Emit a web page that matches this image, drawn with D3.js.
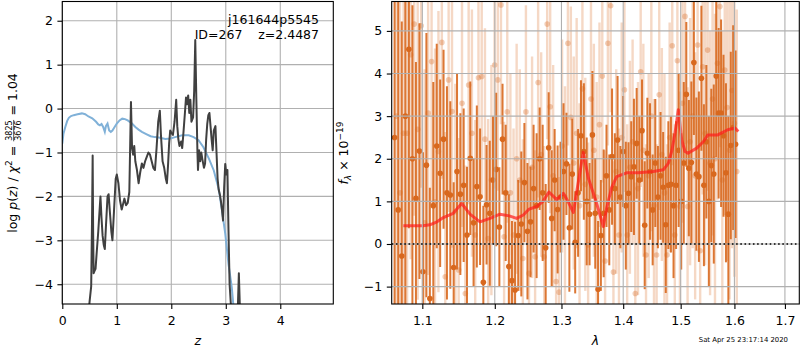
<!DOCTYPE html>
<meta charset="utf-8">
<script src="https://d3js.org/d3.v7.min.js"></script>
<style>
body { margin: 0; background: #fff; }
text { font-family: "DejaVu Sans", sans-serif; white-space: pre; }
</style>
<body>
<div id="chart"></div>
<script>

// ---- left panel: redshift probability ----
var pzZ = [0.46,0.50,0.53,0.545,0.557,0.566,0.575,0.59,0.61,0.63,
  0.66,0.70,0.72,0.74,0.76,0.78,0.80,0.83,0.85,0.87,
  0.90,0.92,0.95,0.98,1.00,1.03,1.06,1.09,1.11,1.14,
  1.17,1.20,1.23,1.26,1.28,1.30,1.32,1.34,1.37,1.40,
  1.43,1.46,1.49,1.52,1.55,1.58,1.61,1.64,1.67,1.70,
  1.73,1.76,1.79,1.81,1.84,1.87,1.90,1.92,1.94,1.96,
  1.98,2.00,2.03,2.06,2.09,2.11,2.13,2.15,2.18,2.20,
  2.22,2.25,2.27,2.29,2.31,2.33,2.35,2.37,2.40,2.42,
  2.44,2.46,2.48,2.49,2.51,2.53,2.55,2.57,2.60,2.62,
  2.64,2.66,2.68,2.70,2.72,2.74,2.76,2.78,2.81,2.83,
  2.85,2.87,2.89,2.91,2.93,2.95,2.97,2.99,3.01,3.03,
  3.05,3.07,3.10,3.15,3.21,3.24,3.27,3.35];
var pzLogP = [-5.0,-4.40,-4.05,-2.6,-1.07,-2.8,-3.75,-3.70,-3.65,-3.3,
  -2.8,-2.0,-2.5,-2.9,-3.1,-3.2,-2.7,-2.0,-1.95,-2.3,
  -2.8,-3.0,-2.3,-1.6,-1.5,-1.7,-2.1,-2.3,-2.2,-2.05,
  -2.2,-2.15,-1.9,0.15,-0.9,-1.05,-0.85,-1.2,-1.4,-1.7,
  -1.45,-1.25,-1.35,-1.2,-1.1,-1.0,-1.05,-1.2,-1.35,-1.4,
  -0.9,-0.3,-0.05,-0.6,-1.2,-1.35,-1.6,-1.7,-1.3,-0.8,
  -0.5,-0.55,-0.6,-0.3,0.2,-0.4,-0.7,-0.85,-0.75,-0.9,
  -0.6,-0.1,0.25,0.1,0.3,-0.1,0.2,-0.3,-0.2,0.4,
  1.56,0.2,-1.0,-1.4,-0.95,-1.2,-1.0,-1.15,-1.35,-1.25,
  -0.7,-0.35,-0.15,-0.1,-0.4,-0.7,-0.95,-0.5,-0.4,-1.0,
  -1.6,-1.85,-1.95,-2.1,-2.3,-2.55,-1.8,-1.26,-1.5,-1.4,
  -2.8,-4.0,-4.6,-5.5,-5.0,-3.75,-5.0,-6.5];

var priorZ = [0,0.02,0.055,0.09,0.12,0.16,0.21,0.28,0.36,0.42,
  0.48,0.55,0.62,0.66,0.69,0.72,0.75,0.78,0.80,0.83,
  0.86,0.89,0.92,0.96,1.00,1.05,1.10,1.15,1.20,1.27,
  1.34,1.40,1.46,1.54,1.62,1.70,1.77,1.89,1.98,2.07,
  2.20,2.32,2.41,2.50,2.59,2.69,2.78,2.87,2.93,2.99,
  3.05,3.11,3.14,3.20];
var priorLogP = [-0.80,-0.58,-0.42,-0.28,-0.21,-0.17,-0.15,-0.13,-0.11,-0.13,
  -0.18,-0.22,-0.30,-0.36,-0.38,-0.35,-0.42,-0.53,-0.40,-0.34,
  -0.50,-0.53,-0.50,-0.42,-0.34,-0.27,-0.23,-0.24,-0.27,-0.33,
  -0.42,-0.48,-0.53,-0.58,-0.63,-0.65,-0.66,-0.69,-0.68,-0.65,
  -0.61,-0.61,-0.65,-0.72,-0.88,-1.14,-1.41,-1.83,-2.32,-2.85,
  -3.54,-4.07,-4.49,-5.2];

var zTicks = [0, 1, 2, 3, 4];
var pTicks = [-4, -3, -2, -1, 0, 1, 2];

// ---- right panel: spectrum (units of 1e-19) ----
var wave1 = [1.0640,1.0686,1.0732,1.0778,1.0824,1.0870,1.0916,1.0962,1.1008,1.1054,
  1.1100,1.1146,1.1192,1.1238,1.1284,1.1330,1.1376,1.1422,1.1468,1.1514,
  1.1560,1.1606,1.1652,1.1698,1.1744,1.1790,1.1836,1.1882,1.1928,1.1974,
  1.2020,1.2066,1.2112,1.2158,1.2204,1.2250,1.2296,1.2342,1.2388,1.2434,
  1.2480,1.2526,1.2572,1.2618,1.2664,1.2710,1.2756,1.2802,1.2848,1.2894,
  1.2940,1.2986,1.3032,1.3078,1.3124,1.3170,1.3216,1.3262,1.3308,1.3354,
  1.3400,1.3446,1.3492,1.3538,1.3584,1.3630,1.3676,1.3722,1.3768,1.3814,
  1.3860,1.3906,1.3952,1.3998,1.4044,1.4090,1.4136,1.4182,1.4228,1.4274,
  1.4320,1.4366,1.4412,1.4458,1.4504,1.4550,1.4596,1.4642,1.4688,1.4734,
  1.4780,1.4826,1.4872,1.4918,1.4964,1.5010,1.5056,1.5102,1.5148,1.5194,
  1.5240,1.5286,1.5332,1.5378,1.5424,1.5470,1.5516,1.5562,1.5608,1.5654,
  1.5700,1.5746,1.5792,1.5838,1.5884,1.5930,1.5976,1.6022];
var flux1 = [2.5,0.8,-0.28,3.0,4.57,2.0,1.07,2.18,-0.65,1.85,
  -1.28,0.9,2.30,1.66,2.46,1.20,1.15,-0.55,1.70,1.17,
  1.38,0.21,2.01,0.5,1.35,1.11,-0.9,0.92,0.72,1.5,
  1.75,0.4,2.46,1.2,-0.53,-0.86,-1.08,0.2,0.47,1.44,
  0.3,0.52,1.3,0.9,2.0,1.2,-0.09,2.26,0.6,1.5,
  0.81,1.1,1.70,1.88,0.38,1.64,0.04,1.2,2.54,2.17,
  1.0,0.7,2.56,0.72,-1.06,0.2,0.72,1.6,0.8,2.05,
  1.3,2.44,1.10,2.17,0.9,1.19,1.58,1.81,2.36,1.50,
  2.66,0.44,2.13,1.7,0.80,1.9,1.1,1.6,1.33,0.45,
  1.38,1.40,0.9,1.38,2.2,1.0,1.9,3.51,1.78,1.91,
  4.26,1.64,1.58,3.89,1.38,2.4,1.0,1.84,1.64,3.94,
  3.07,3.07,2.54,1.67,0.70,2.31,2.73,2.34];
var err1 = [6.0,6.0,5.5,5.0,4.2,3.6,3.2,3.0,2.8,3.1,
  2.6,2.9,2.4,2.2,2.1,2.5,2.2,2.0,2.3,1.9,
  1.8,1.6,1.8,1.5,1.9,1.6,1.8,1.4,1.7,1.5,
  1.8,1.4,1.3,1.6,1.7,1.4,1.6,1.3,1.7,1.4,
  1.6,1.3,1.5,1.7,1.2,1.6,1.5,1.3,1.6,1.2,
  1.5,1.3,1.6,1.2,1.5,1.3,1.2,1.5,1.3,1.6,
  1.5,1.2,1.5,1.3,1.6,1.3,1.5,1.2,1.3,1.6,
  1.3,1.5,1.2,1.3,1.5,1.2,1.3,1.6,1.3,1.5,
  1.2,1.5,1.3,1.6,1.3,1.5,1.2,1.5,1.3,1.6,
  1.5,1.6,1.7,1.5,1.8,1.6,1.9,1.7,1.6,1.9,
  1.7,1.8,2.0,1.7,1.9,1.8,2.0,1.8,2.1,1.9,
  2.0,2.2,1.9,2.1,2.3,2.2,2.4,2.2];

var wave2 = [1.0663,1.0709,1.0755,1.0801,1.0847,1.0893,1.0939,1.0985,1.1031,1.1077,
  1.1123,1.1169,1.1215,1.1261,1.1307,1.1353,1.1399,1.1445,1.1491,1.1537,
  1.1583,1.1629,1.1675,1.1721,1.1767,1.1813,1.1859,1.1905,1.1951,1.1997,
  1.2043,1.2089,1.2135,1.2181,1.2227,1.2273,1.2319,1.2365,1.2411,1.2457,
  1.2503,1.2549,1.2595,1.2641,1.2687,1.2733,1.2779,1.2825,1.2871,1.2917,
  1.2963,1.3009,1.3055,1.3101,1.3147,1.3193,1.3239,1.3285,1.3331,1.3377,
  1.3423,1.3469,1.3515,1.3561,1.3607,1.3653,1.3699,1.3745,1.3791,1.3837,
  1.3883,1.3929,1.3975,1.4021,1.4067,1.4113,1.4159,1.4205,1.4251,1.4297,
  1.4343,1.4389,1.4435,1.4481,1.4527,1.4573,1.4619,1.4665,1.4711,1.4757,
  1.4803,1.4849,1.4895,1.4941,1.4987,1.5033,1.5079,1.5125,1.5171,1.5217,
  1.5263,1.5309,1.5355,1.5401,1.5447,1.5493,1.5539,1.5585,1.5631,1.5677,
  1.5723,1.5769,1.5815,1.5861,1.5907,1.5953,1.5999,1.6045];
var flux2 = [3.0,1.2,2.6,2.6,4.44,5.16,2.69,5.12,0.5,3.07,
  4.28,0.99,2.17,4.73,-0.77,3.85,3.11,0.76,-0.61,3.30,
  -1.16,3.73,2.6,0.21,3.90,3.93,2.46,0.13,1.5,4.2,
  3.85,5.61,0.17,3.1,1.2,0.21,2.0,1.5,-0.34,3.1,
  -0.69,1.8,-0.30,3.79,2.1,-0.30,5.16,3.22,1.6,-0.88,
  -1.13,2.3,1.1,4.71,2.97,1.9,2.6,0.9,3.64,1.4,
  -0.02,3.40,2.2,1.1,2.8,3.94,-0.40,4.71,5.59,-0.66,
  1.7,0.21,2.5,3.62,0.21,1.8,2.4,-1.16,1.3,4.04,
  2.2,-0.26,1.6,3.0,0.9,-0.26,3.5,2.1,1.2,-0.26,
  2.5,4.65,0.21,4.30,0.88,3.3,5.34,0.88,2.4,3.0,
  1.6,4.67,-0.16,4.16,2.6,4.55,1.9,3.4,2.0,4.24,
  5.57,1.5,4.08,3.2,2.2,3.6,2.83,1.7];
var err2 = [6.0,6.0,5.5,5.0,4.8,4.5,4.0,3.8,3.6,3.8,
  3.4,3.6,3.3,3.2,3.4,3.1,3.2,3.0,3.1,2.9,
  3.0,2.8,2.9,2.7,2.9,2.8,2.6,2.8,2.7,2.9,
  2.6,2.8,2.7,2.6,2.8,2.5,2.7,2.6,2.8,2.5,
  2.7,2.6,2.5,2.7,2.4,2.6,2.7,2.5,2.6,2.4,
  2.7,2.5,2.6,2.4,2.6,2.5,2.7,2.4,2.6,2.5,
  2.4,2.6,2.5,2.7,2.4,2.5,2.6,2.4,2.5,2.6,
  2.4,2.5,2.7,2.4,2.6,2.5,2.4,2.6,2.5,2.7,
  2.5,2.6,2.4,2.7,2.5,2.6,2.7,2.5,2.8,2.6,
  2.7,2.8,2.6,2.9,2.7,2.8,3.0,2.8,2.9,3.1,
  2.9,3.0,3.2,3.0,3.1,3.3,3.1,3.2,3.4,3.2,
  3.3,3.5,3.4,3.6,3.5,3.7,3.6,3.8];

var modelWave = [1.0752,1.1013,1.1099,1.1196,1.1281,1.1416,1.1481,1.1533,1.1648,1.1789,
  1.1931,1.2075,1.2210,1.2319,1.2418,1.2505,1.2620,1.2715,1.2806,1.2926,
  1.3029,1.3102,1.3186,1.3260,1.3345,1.3426,1.3561,1.3670,1.3726,1.3808,
  1.3891,1.4058,1.4257,1.4515,1.4690,1.4779,1.4844,1.4898,1.4958,1.5019,
  1.5078,1.5133,1.5292,1.5413,1.5498,1.5684,1.5872,1.6012,1.6075];
var modelFlux = [0.43,0.43,0.45,0.52,0.62,0.72,0.85,0.95,0.70,0.52,
  0.60,0.70,0.66,0.60,0.68,0.82,0.88,1.00,1.22,1.04,
  1.19,1.00,0.74,1.40,2.15,1.55,0.95,0.41,0.85,1.33,
  1.58,1.67,1.67,1.70,1.74,1.89,2.20,2.60,3.15,2.44,
  2.17,2.13,2.25,2.40,2.56,2.56,2.68,2.72,2.64];

var lamTicks = [1.1, 1.2, 1.3, 1.4, 1.5, 1.6, 1.7];
var fTicks = [-1, 0, 1, 2, 3, 4, 5];

var fs = 12.5;
var orange = "#d8681e";
var gridColor = "#b0b0b0";

var svg = d3.select("#chart")
  .append("svg")
    .attr("width", 800)
    .attr("height", 350)
    .style("background", "#fff");

var L = {left: 62.3, right: 333.3, top: 1.5, bottom: 304};
var R = {left: 391.7, right: 799.3, top: 1.5, bottom: 304};

var x1 = d3.scaleLinear().domain([0, 4.973]).range([L.left, L.right]);
var y1 = d3.scaleLinear().domain([-4.45, 2.438]).range([L.bottom, L.top]);
var x2 = d3.scaleLog().domain([1.0603, 1.7296]).range([R.left, R.right]);
var y2 = d3.scaleLinear().domain([-1.408, 5.69]).range([R.bottom, R.top]);

function clip(id, b) {
  svg.append("clipPath").attr("id", id)
    .append("rect")
      .attr("x", b.left).attr("y", b.top)
      .attr("width", b.right - b.left).attr("height", b.bottom - b.top);
}
clip("clipL", L);
clip("clipR", R);

function grid(b, xs, ys, xt, yt) {
  var g = svg.append("g").attr("stroke", gridColor).attr("stroke-width", 1.1);
  xt.forEach(function(d) {
    g.append("line").attr("x1", xs(d)).attr("x2", xs(d)).attr("y1", b.top).attr("y2", b.bottom);
  });
  yt.forEach(function(d) {
    g.append("line").attr("x1", b.left).attr("x2", b.right).attr("y1", ys(d)).attr("y2", ys(d));
  });
}

function styleAxis(g) {
  g.select(".domain").remove();
  g.attr("font-size", null).attr("font-family", null);
  g.selectAll("text").attr("font-size", fs).attr("fill", "#000");
  g.selectAll("line").attr("stroke", "#000").attr("stroke-width", 1.1);
}

function frame(b) {
  svg.append("rect")
    .attr("x", b.left).attr("y", b.top)
    .attr("width", b.right - b.left).attr("height", b.bottom - b.top)
    .attr("fill", "none").attr("stroke", "#000").attr("stroke-width", 1.1);
}

// ===== left panel =====
grid(L, x1, y1, zTicks, pTicks);

var gl = svg.append("g").attr("clip-path", "url(#clipL)");

gl.append("path")
  .datum(priorZ.map(function(z, i) { return [z, priorLogP[i]]; }))
  .attr("fill", "none")
  .attr("stroke", "#80b1d8")
  .attr("stroke-width", 2)
  .attr("d", d3.line().x(function(d) { return x1(d[0]); }).y(function(d) { return y1(d[1]); }));

gl.append("path")
  .datum(pzZ.map(function(z, i) { return [z, pzLogP[i]]; }))
  .attr("fill", "none")
  .attr("stroke", "#404040")
  .attr("stroke-width", 2)
  .attr("stroke-linejoin", "round")
  .attr("d", d3.line().x(function(d) { return x1(d[0]); }).y(function(d) { return y1(d[1]); }));

svg.append("g")
  .attr("transform", "translate(0," + L.bottom + ")")
  .call(d3.axisBottom(x1).tickValues(zTicks).tickSize(4.9).tickPadding(7).tickFormat(d3.format("d")))
  .call(styleAxis);
svg.append("g")
  .attr("transform", "translate(" + L.left + ",0)")
  .call(d3.axisLeft(y1).tickValues(pTicks).tickSize(4.9).tickPadding(4.5).tickFormat(d3.format("d")))
  .call(styleAxis);
frame(L);

svg.append("text")
  .attr("x", 319).attr("y", 24)
  .attr("text-anchor", "end").attr("font-size", fs)
  .text("j161644p5545");
svg.append("text")
  .attr("x", 319).attr("y", 38.5)
  .attr("text-anchor", "end").attr("font-size", fs)
  .text("ID=267    z=2.4487");

svg.append("text")
  .attr("x", (L.left + L.right) / 2).attr("y", 345)
  .attr("text-anchor", "middle").attr("font-size", fs).attr("font-style", "italic")
  .text("z");

// left y label with a stacked fraction
(function() {
  var g = svg.append("g");
  var t1 = g.append("text").attr("font-size", fs);
  t1.append("tspan").text("log ");
  t1.append("tspan").attr("font-style", "italic").text("p");
  t1.append("tspan").text("(");
  t1.append("tspan").attr("font-style", "italic").text("z");
  t1.append("tspan").text(") / ");
  t1.append("tspan").attr("font-style", "italic").text("χ");
  t1.append("tspan").attr("font-size", 9).attr("dy", -5).text("2");
  t1.append("tspan").attr("dy", 5).text(" = ");
  var w1 = t1.node().getComputedTextLength();

  var num = g.append("text").attr("font-size", 8).attr("y", -5).text("3825");
  var den = g.append("text").attr("font-size", 8).attr("y", 4).text("3676");
  var wf = Math.max(num.node().getComputedTextLength(), den.node().getComputedTextLength());
  num.attr("x", w1 + 1);
  den.attr("x", w1 + 1);
  g.append("line")
    .attr("x1", w1 + 0.5).attr("x2", w1 + wf + 1.5)
    .attr("y1", -3.3).attr("y2", -3.3)
    .attr("stroke", "#000").attr("stroke-width", 0.7);

  var t2 = g.append("text").attr("font-size", fs).attr("x", w1 + wf + 2).text(" = 1.04");
  var total = w1 + wf + 2 + t2.node().getComputedTextLength();
  g.attr("transform", "translate(17," + (153 + total / 2) + ") rotate(-90)");
})();

// ===== right panel =====
var spec1 = wave1.map(function(w, i) { return {w: w, f: flux1[i], e: err1[i]}; });
var spec2 = wave2.map(function(w, i) { return {w: w, f: flux2[i], e: err2[i]}; });

var gr = svg.append("g").attr("clip-path", "url(#clipR)");

function errorbars(data, barWidth, barOpacity, dotOpacity) {
  var g = gr.append("g");
  g.selectAll("line")
    .data(data)
    .join("line")
      .attr("x1", function(d) { return x2(d.w); })
      .attr("x2", function(d) { return x2(d.w); })
      .attr("y1", function(d) { return y2(d.f - d.e); })
      .attr("y2", function(d) { return y2(d.f + d.e); })
      .attr("stroke", orange)
      .attr("stroke-width", barWidth)
      .attr("stroke-opacity", barOpacity);
  g.selectAll("circle")
    .data(data)
    .join("circle")
      .attr("cx", function(d) { return x2(d.w); })
      .attr("cy", function(d) { return y2(d.f); })
      .attr("r", 2.8)
      .attr("fill", orange)
      .attr("fill-opacity", dotOpacity);
}
errorbars(spec2, 2.4, 0.26, 0.32);
errorbars(spec1, 2.0, 0.9, 1);

grid(R, x2, y2, lamTicks, fTicks);

svg.append("line")
  .attr("x1", R.left).attr("x2", R.right)
  .attr("y1", y2(0)).attr("y2", y2(0))
  .attr("stroke", "#000").attr("stroke-width", 1.6)
  .attr("stroke-dasharray", "1.6,2.6");

gr.append("path")
  .datum(modelWave.map(function(w, i) { return [w, modelFlux[i]]; }))
  .attr("fill", "none")
  .attr("stroke", "#ff1a1a")
  .attr("stroke-opacity", 0.7)
  .attr("stroke-width", 3)
  .attr("stroke-linejoin", "round")
  .attr("d", d3.line().x(function(d) { return x2(d[0]); }).y(function(d) { return y2(d[1]); }));

svg.append("g")
  .attr("transform", "translate(0," + R.bottom + ")")
  .call(d3.axisBottom(x2).tickValues(lamTicks).tickSize(4.9).tickPadding(7).tickFormat(d3.format(".1f")))
  .call(styleAxis);
svg.append("g")
  .attr("transform", "translate(" + R.left + ",0)")
  .call(d3.axisLeft(y2).tickValues(fTicks).tickSize(4.9).tickPadding(4.5).tickFormat(d3.format("d")))
  .call(styleAxis);
frame(R);

svg.append("text")
  .attr("x", (R.left + R.right) / 2).attr("y", 345)
  .attr("text-anchor", "middle").attr("font-size", fs).attr("font-style", "italic")
  .text("λ");

var yl = svg.append("text")
  .attr("transform", "translate(348,153) rotate(-90)")
  .attr("text-anchor", "middle").attr("font-size", fs);
yl.append("tspan").attr("font-style", "italic").text("f");
yl.append("tspan").attr("font-style", "italic").attr("font-size", 9).attr("dy", 3).text("λ");
yl.append("tspan").attr("dy", -3).text(" × 10");
yl.append("tspan").attr("font-size", 9).attr("dy", -5).text("−19");

svg.append("text")
  .attr("x", 788).attr("y", 342)
  .attr("text-anchor", "end").attr("font-size", 6.9)
  .text("Sat Apr 25 23:17:14 2020");

</script>
</body>
